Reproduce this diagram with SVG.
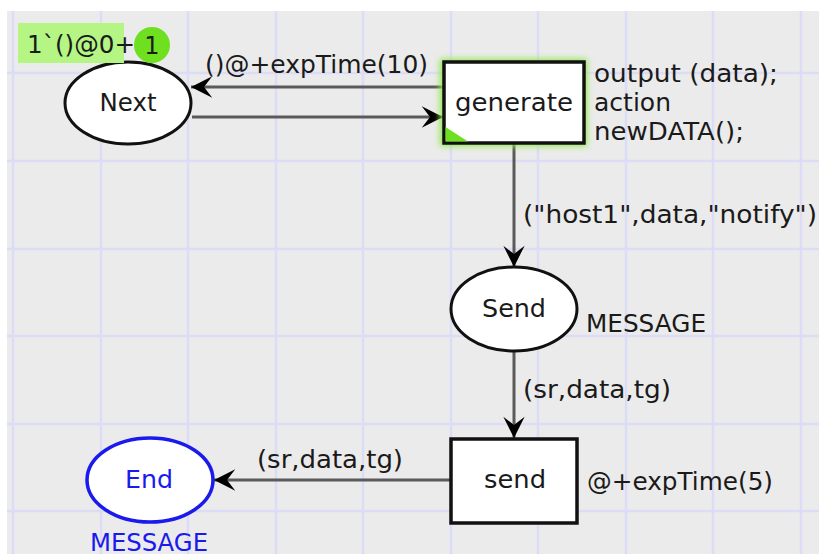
<svg xmlns="http://www.w3.org/2000/svg" width="819" height="554" viewBox="0 0 819 554">
<defs>
<style>
text{font-family:"DejaVu Sans","Liberation Sans",sans-serif;font-size:24px;fill:#1a1a1a}
.grid line{stroke:#dcdcf6;stroke-width:2.5}
.place{fill:#fff;stroke:#111;stroke-width:3}
.trans{fill:#fff;stroke:#111;stroke-width:3.5}
.arc{stroke:#5a5a5a;stroke-width:3;fill:none;marker-end:url(#ah)}
.blue{fill:#1a1aee}
</style>
<marker id="ah" markerUnits="userSpaceOnUse" markerWidth="26" markerHeight="26" viewBox="-20 -11 22 22" refX="0" refY="0" orient="auto">
<path d="M0,0 L-18,-9 L-11,0 L-18,9 Z" fill="#000"/>
</marker>
<filter id="glow" x="-20%" y="-20%" width="140%" height="140%">
<feGaussianBlur stdDeviation="3"/>
</filter>
</defs>
<rect width="819" height="554" fill="#fff"/>
<rect x="7" y="11" width="812" height="543" fill="#ebebeb"/>
<g class="grid">
<line x1="13" y1="11" x2="13" y2="554"/><line x1="101" y1="11" x2="101" y2="554"/><line x1="188" y1="11" x2="188" y2="554"/><line x1="276" y1="11" x2="276" y2="554"/><line x1="363" y1="11" x2="363" y2="554"/><line x1="451" y1="11" x2="451" y2="554"/><line x1="538" y1="11" x2="538" y2="554"/><line x1="626" y1="11" x2="626" y2="554"/><line x1="713" y1="11" x2="713" y2="554"/><line x1="801" y1="11" x2="801" y2="554"/>
<line x1="7" y1="73" x2="819" y2="73"/><line x1="7" y1="161" x2="819" y2="161"/><line x1="7" y1="249" x2="819" y2="249"/><line x1="7" y1="336" x2="819" y2="336"/><line x1="7" y1="424" x2="819" y2="424"/><line x1="7" y1="511" x2="819" y2="511"/>
</g>
<g id="connectors">
<line class="arc" x1="443" y1="87" x2="191" y2="87"/>
<line class="arc" x1="192" y1="117" x2="443" y2="117"/>
<line class="arc" x1="514" y1="144" x2="514" y2="267"/>
<line class="arc" x1="514" y1="351" x2="514" y2="438"/>
<line class="arc" x1="451" y1="480" x2="214" y2="480"/>
<text x="205" y="73" textLength="223" lengthAdjust="spacingAndGlyphs">()@+expTime(10)</text>
<text x="523" y="223" textLength="294" lengthAdjust="spacingAndGlyphs">("host1",data,"notify")</text>
<text x="523" y="398" textLength="148" lengthAdjust="spacingAndGlyphs">(sr,data,tg)</text>
<text x="257" y="468" textLength="146" lengthAdjust="spacingAndGlyphs">(sr,data,tg)</text>
</g>
<g id="Next">
<ellipse class="place" cx="128" cy="103" rx="63" ry="41"/>
<text x="128" y="111" text-anchor="middle" textLength="57" lengthAdjust="spacingAndGlyphs">Next</text>
<rect x="18" y="23" width="106" height="40" fill="#b4f584"/>
<text x="27" y="53" textLength="108" lengthAdjust="spacingAndGlyphs">1`()@0+</text>
<circle cx="152" cy="45" r="18" fill="#6ee01f"/>
<text x="152" y="54" text-anchor="middle">1</text>
</g>
<g id="generate">
<rect x="440" y="59" width="147" height="87" fill="#8fe84a" filter="url(#glow)"/>
<rect class="trans" x="444" y="62" width="140" height="81"/>
<path d="M445.5,141.5 L445.5,127 L468,141.5 Z" fill="#6ee01f"/>
<text x="514" y="111" text-anchor="middle" textLength="118" lengthAdjust="spacingAndGlyphs">generate</text>
<text x="594" y="82" textLength="184" lengthAdjust="spacingAndGlyphs">output (data);</text>
<text x="594" y="111" textLength="77" lengthAdjust="spacingAndGlyphs">action</text>
<text x="594" y="140" textLength="150" lengthAdjust="spacingAndGlyphs">newDATA();</text>
</g>
<g id="Send">
<ellipse class="place" cx="514" cy="309" rx="63" ry="42"/>
<text x="514" y="317" text-anchor="middle" textLength="64" lengthAdjust="spacingAndGlyphs">Send</text>
<text x="586" y="332" textLength="120" lengthAdjust="spacingAndGlyphs">MESSAGE</text>
</g>
<g id="send">
<rect class="trans" x="451" y="439" width="126" height="84"/>
<text x="515" y="488" text-anchor="middle" textLength="62" lengthAdjust="spacingAndGlyphs">send</text>
<text x="587" y="490" textLength="186" lengthAdjust="spacingAndGlyphs">@+expTime(5)</text>
</g>
<g id="End">
<ellipse cx="150" cy="480" rx="63" ry="42" fill="#fff" stroke="#1a1aee" stroke-width="3.5"/>
<text class="blue" x="149" y="488" text-anchor="middle" textLength="48" lengthAdjust="spacingAndGlyphs">End</text>
<text class="blue" x="90" y="551" textLength="118" lengthAdjust="spacingAndGlyphs">MESSAGE</text>
</g>
</svg>
